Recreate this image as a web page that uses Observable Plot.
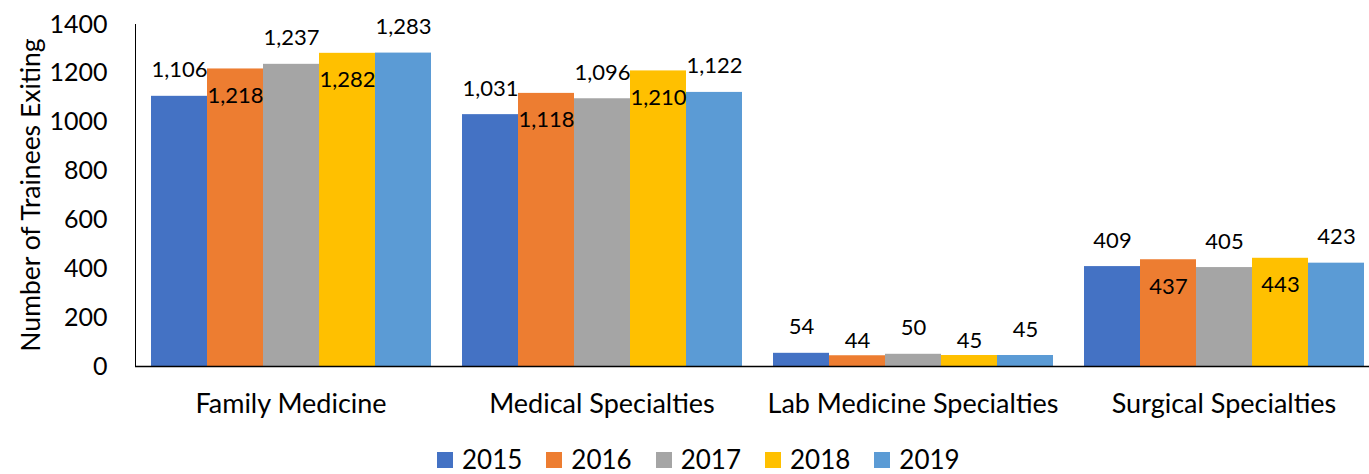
<!DOCTYPE html>
<html><head><meta charset="utf-8">
<script src="https://cdn.jsdelivr.net/npm/d3@7"></script>
<script src="https://cdn.jsdelivr.net/npm/@observablehq/plot@0.6"></script>
<style>
body{margin:0;background:#fff;overflow:hidden;font-family:Lato,sans-serif;}
#legend{display:flex;align-items:center;height:29px;line-height:29px;padding-left:437px;font-size:26px;color:#000}
.item{display:flex;align-items:center;margin-right:24px}
.sw{width:16px;height:16px;margin-right:9px}
g[aria-label="fx-axis tick label"]{font-size:27px}
g[aria-label="y-axis tick label"]{font-size:25px}
</style></head><body><div id="chart"></div><div id="legend"></div>
<script>
const categories = ["Family Medicine","Medical Specialties","Lab Medicine Specialties","Surgical Specialties"];
const years = ["2015","2016","2017","2018","2019"];
const v2015 = [1106,1031,54,409];
const v2016 = [1218,1118,44,437];
const v2017 = [1237,1096,50,405];
const v2018 = [1282,1210,45,443];
const v2019 = [1283,1122,45,423];
const colors = ["#4472C4","#ED7D31","#A5A5A5","#FFC000","#5B9BD5"];
const yTicks = [0,200,400,600,800,1000,1200,1400];
const yTitle = "Number of Trainees Exiting";

const series = [v2015,v2016,v2017,v2018,v2019];
const data = [];
categories.forEach((c,i)=>years.forEach((y,j)=>data.push({category:c,year:y,value:series[j][i]})));
const fmt = d3.format(",");
const alt = d => d.year==="2016"||d.year==="2018";
const above = data.filter(d=>!alt(d));
const inside = data.filter(d=>alt(d)&&d.value>100);
const low = data.filter(d=>alt(d)&&d.value<=100);
const lbl = {fx:"category",x:"year",y:"value",text:d=>fmt(d.value),fontSize:22,fill:"#000"};

const plot = Plot.plot({
  width:1369, height:445, marginTop:24, marginBottom:79, marginLeft:134, marginRight:0,
  style:{fontFamily:"Lato, sans-serif", fontSize:"25px", color:"#000", background:"#fff"},
  fx:{domain:categories, range:[134,1380], padding:0, axis:"bottom", tickSize:0, tickPadding:27, label:null},
  x:{domain:years, paddingInner:0, paddingOuter:0.252, axis:null},
  y:{domain:[0,1400], ticks:yTicks, tickSize:0, tickPadding:28, tickFormat:d3.format("d"), label:null, line:true},
  color:{domain:years, range:colors},
  marks:[
    Plot.barY(data,{fx:"category",x:"year",y:"value",fill:"year"}),
    Plot.ruleY([0],{stroke:"#000",strokeWidth:1.5}),
    Plot.text(above,{...lbl,dy:-26}),
    Plot.text(inside,{...lbl,dy:27}),
    Plot.text(low,{...lbl,dy:-15})
  ]
});
document.getElementById("chart").appendChild(plot);
d3.select(plot).append("text")
  .attr("transform","translate(30,195) rotate(-90)")
  .attr("text-anchor","middle").attr("dominant-baseline","central")
  .attr("font-size",26.5).attr("fill","#000").text(yTitle);
const leg = d3.select("#legend");
years.forEach((y,i)=>{
  const it = leg.append("div").attr("class","item");
  it.append("div").attr("class","sw").style("background",colors[i]);
  it.append("span").text(y);
});
</script></body></html>
